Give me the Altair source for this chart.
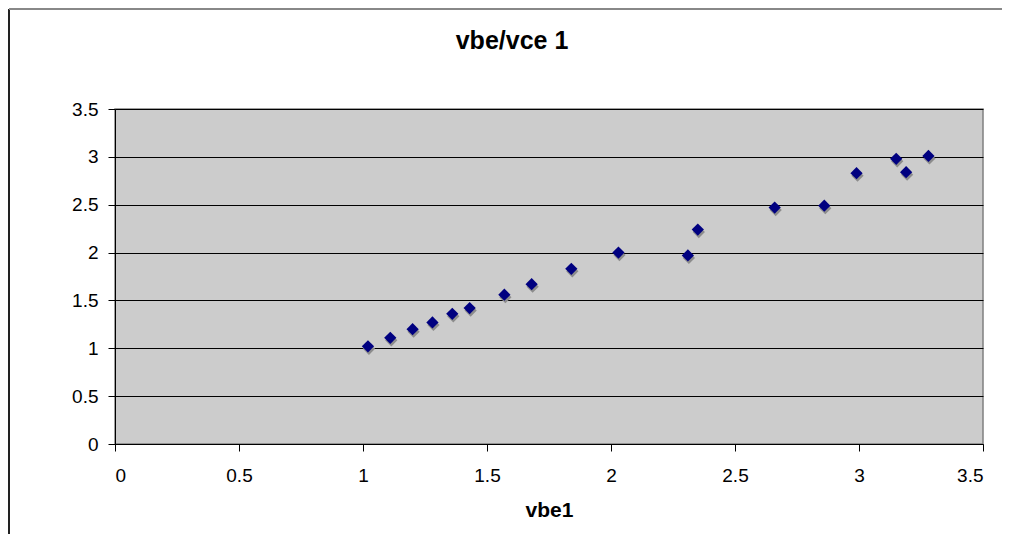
import altair as alt
import pandas as pd

vbe1 = [1.02, 1.11, 1.20, 1.28, 1.36, 1.43, 1.57, 1.68, 1.84, 2.03, 2.31, 2.35, 2.66, 2.86, 2.99, 3.15, 3.19, 3.28]
vce1 = [1.02, 1.11, 1.20, 1.27, 1.36, 1.42, 1.56, 1.67, 1.83, 2.00, 1.97, 2.24, 2.47, 2.49, 2.83, 2.98, 2.84, 3.01]
ticks = [0, 0.5, 1, 1.5, 2, 2.5, 3, 3.5]
chart_title = ["vbe/vce 1"]

df = pd.DataFrame({"vbe1": vbe1, "vce1": vce1})
FONT = "Liberation Sans"

x = alt.X("vbe1:Q", scale=alt.Scale(domain=[0, 3.5], nice=False),
          axis=alt.Axis(values=ticks, title="vbe1", grid=False, domainColor="black",
                        tickColor="black", tickSize=7, labelFontSize=19, labelColor="black",
                        labelExpr="datum.value", labelFont=FONT, titleFont=FONT,
                        titleFontSize=21, titleFontWeight="bold", titleColor="black",
                        labelPadding=15, titlePadding=14))
y = alt.Y("vce1:Q", scale=alt.Scale(domain=[0, 3.5], nice=False),
          axis=alt.Axis(values=ticks, title=None, grid=True, gridColor="black", gridOpacity=1,
                        domainColor="black", tickColor="black", tickSize=7, labelFontSize=19,
                        labelExpr="datum.value", labelColor="black", labelFont=FONT,
                        labelPadding=10))

shadow = alt.Chart(df).mark_point(shape="diamond", filled=True, size=150, color="#8c8c8c",
                                  opacity=1, xOffset=1, yOffset=2.5).encode(x=x, y=y)
pts = alt.Chart(df).mark_point(shape="diamond", filled=True, size=150, color="#000080",
                               opacity=1).encode(x=x, y=y)

title = alt.Chart(pd.DataFrame({"t": chart_title})).mark_text(
    font=FONT, fontSize=25, fontWeight="bold", color="black", align="center", baseline="middle"
).encode(text="t:N", x=alt.value(397), y=alt.value(-68))

frame_left = alt.Chart(pd.DataFrame({"a": [0]})).mark_rule(color="#222222", strokeWidth=2).encode(
    x=alt.value(-106), y=alt.value(-100), y2=alt.value(425))
frame_top = alt.Chart(pd.DataFrame({"a": [0]})).mark_rule(color="#888888", strokeWidth=2).encode(
    x=alt.value(-106), x2=alt.value(900), y=alt.value(-100))

chart = alt.layer(shadow, pts, title, frame_left, frame_top).properties(
    width=868, height=335,
    autosize=alt.AutoSizeParams(type="none"),
    padding={"left": 107, "top": 101, "right": 19, "bottom": 90},
).configure(background="white").configure_view(fill="#cccccc", stroke="#808080", strokeWidth=1.5)

chart.save("out.html", embed_options={"renderer": "svg", "actions": False})
